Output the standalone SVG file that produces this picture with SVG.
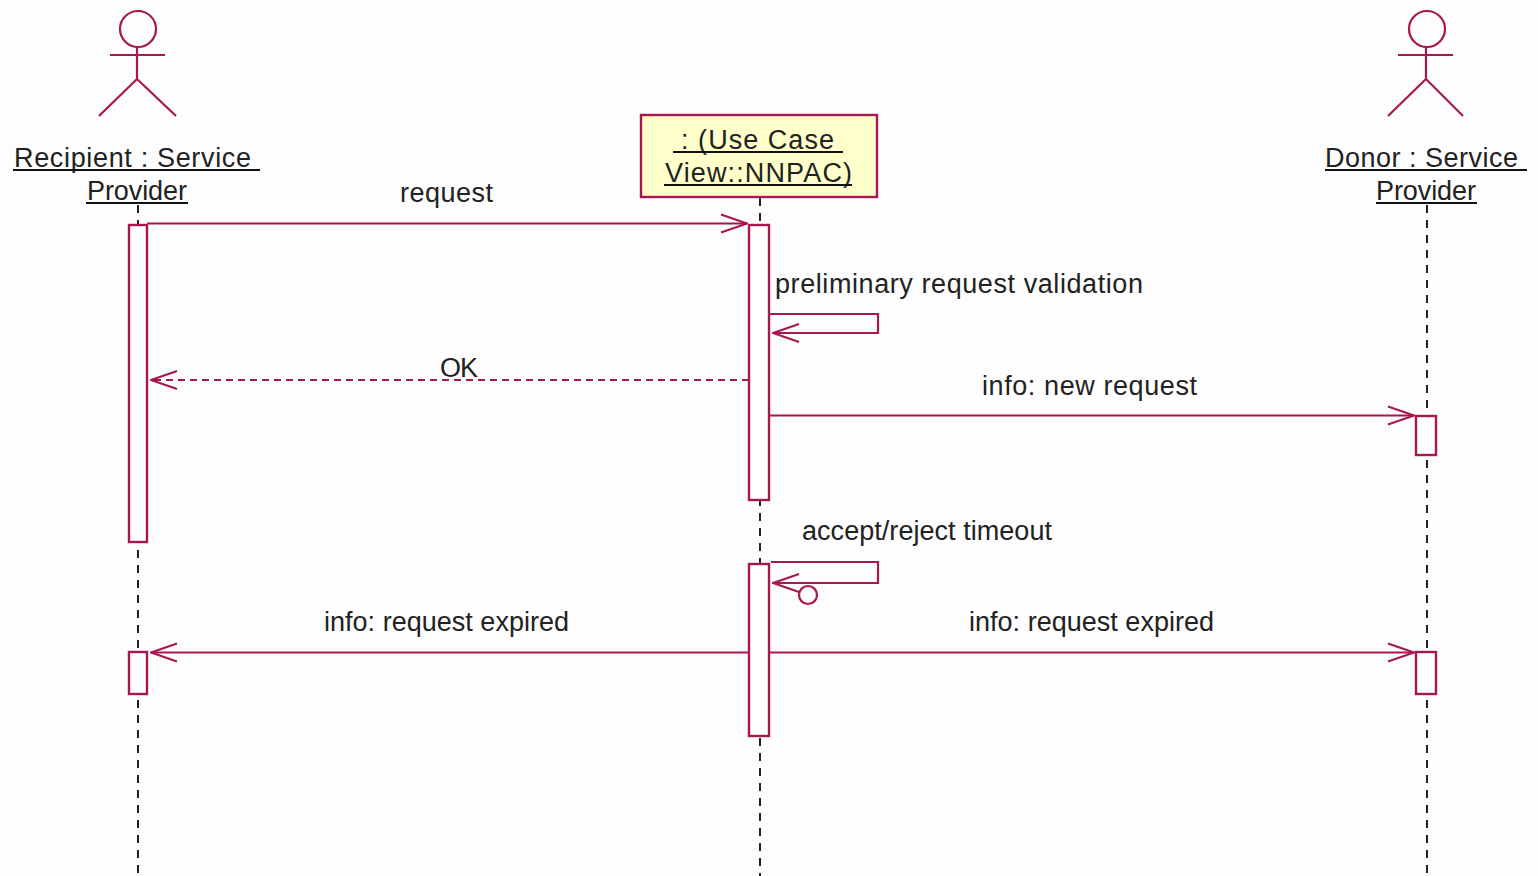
<svg xmlns="http://www.w3.org/2000/svg" width="1538" height="876" viewBox="0 0 1538 876">
<defs>
<style>
.l{stroke:#a8174f;stroke-width:2.2;fill:none}
.b{stroke:#a8174f;stroke-width:2.4;fill:#fff}
.d{stroke:#a8174f;stroke-width:2.2;fill:none;stroke-dasharray:7 5}
.life{stroke:#222;stroke-width:2;stroke-dasharray:8 7;fill:none}
.t{font-family:"Liberation Sans",Arial,sans-serif;font-size:27px;fill:#222;lengthAdjust:spacing}
.u{stroke:#111;stroke-width:2;fill:none}
</style>
<marker id="open" viewBox="0 0 28 24" refX="27" refY="12" markerWidth="28" markerHeight="24" markerUnits="userSpaceOnUse" orient="auto"><path d="M1 3L27 12L1 21" fill="none" stroke="#a8174f" stroke-width="2.2"/></marker>
</defs>
<rect width="1538" height="876" fill="#fdfdfd"/>
<g id="lifelines">
<line class="life" x1="138" y1="205" x2="138" y2="876"/>
<line class="life" x1="760" y1="198" x2="760" y2="876"/>
<line class="life" x1="1427" y1="205" x2="1427" y2="876"/>
</g>
<g id="recipient">
<circle class="l" cx="138" cy="29" r="18"/>
<path class="l" d="M137 47V79M110 55H165M99 116L137 79L176 116"/>
<text class="t" x="14" y="167" textLength="237">Recipient : Service</text>
<text class="t" x="87" y="200" textLength="100">Provider</text>
<path class="u" d="M13 170H260M86 203H188"/>
</g>
<g id="usecase">
<rect x="641" y="115" width="236" height="82" fill="#ffffcb" stroke="#a8174f" stroke-width="2.4"/>
<text class="t" x="681" y="149" textLength="153">: (Use Case</text>
<text class="t" x="665" y="182" textLength="187">View::NNPAC)</text>
<path class="u" d="M673 152H843M664 185H852"/>
</g>
<g id="donor">
<circle class="l" cx="1427" cy="29" r="18"/>
<path class="l" d="M1426 47V79M1398 55H1453M1388 116L1426 79L1463 116"/>
<text class="t" x="1325" y="167" textLength="193">Donor : Service</text>
<text class="t" x="1376" y="200" textLength="100">Provider</text>
<path class="u" d="M1325 170H1527M1376 203H1477"/>
</g>
<g id="activations">
<rect class="b" x="129" y="225" width="18" height="317"/>
<rect class="b" x="749" y="225" width="20" height="275"/>
<rect class="b" x="749" y="564" width="20" height="172"/>
<rect class="b" x="1416" y="416" width="20" height="39"/>
<rect class="b" x="129" y="652" width="18" height="42"/>
<rect class="b" x="1416" y="652" width="20" height="42"/>
</g>
<g id="connectors">
<line class="l" x1="147" y1="223.500" x2="747" y2="223.500" marker-end="url(#open)"/>
<path class="l" d="M769 314H878V333H773" marker-end="url(#open)"/>
<line class="d" x1="749" y1="380" x2="151" y2="380" marker-end="url(#open)"/>
<line class="l" x1="769" y1="415.500" x2="1414" y2="415.500" marker-end="url(#open)"/>
<path class="l" d="M771 562H878V583H773" marker-end="url(#open)"/>
<circle class="l" cx="808" cy="595" r="9"/>
<line class="l" x1="749" y1="652.500" x2="151" y2="652.500" marker-end="url(#open)"/>
<line class="l" x1="769" y1="652.500" x2="1414" y2="652.500" marker-end="url(#open)"/>
</g>
<g id="labels">
<text class="t" x="400" y="202" textLength="93">request</text>
<text class="t" x="775" y="293" textLength="368">preliminary request validation</text>
<text class="t" x="440" y="377" textLength="38">OK</text>
<text class="t" x="982" y="395" textLength="215">info: new request</text>
<text class="t" x="802" y="540" textLength="250">accept/reject timeout</text>
<text class="t" x="324" y="631" textLength="245">info: request expired</text>
<text class="t" x="969" y="631" textLength="245">info: request expired</text>
</g>
</svg>
